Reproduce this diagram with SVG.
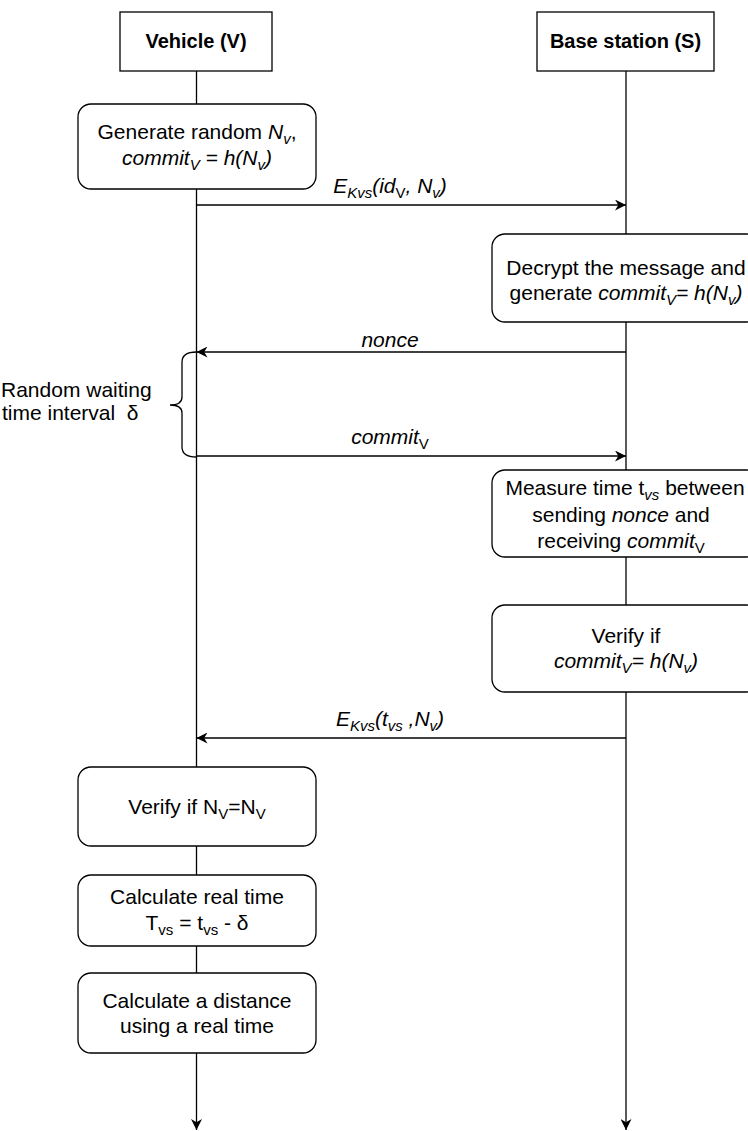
<svg xmlns="http://www.w3.org/2000/svg" width="748" height="1131" viewBox="0 0 748 1131">
<defs>
<marker id="arr" viewBox="0 0 10 10" refX="10" refY="5" markerWidth="11" markerHeight="11" markerUnits="userSpaceOnUse" orient="auto">
<path d="M0,0 L10,5 L0,10 L3,5 z" fill="#000"/>
</marker>
</defs>
<style>
.box{fill:#fff;stroke:#000;stroke-width:1.3}
.ln{fill:none;stroke:#000;stroke-width:1.3}
.t{font-family:"Liberation Sans",Arial,Helvetica,sans-serif;font-size:21px;fill:#000;text-anchor:middle}
.h{font-family:"Liberation Sans",Arial,Helvetica,sans-serif;font-size:20px;font-weight:bold;fill:#000;text-anchor:middle}
.i{font-style:italic}
.s{font-size:15px}
</style>
<g id="connectors">
<line class="ln" x1="196.5" y1="71" x2="196.5" y2="1130" marker-end="url(#arr)"/>
<line class="ln" x1="626" y1="71" x2="626" y2="1130" marker-end="url(#arr)"/>
<line class="ln" x1="196.5" y1="205" x2="626" y2="205" marker-end="url(#arr)"/>
<line class="ln" x1="626" y1="352" x2="196.5" y2="352" marker-end="url(#arr)"/>
<line class="ln" x1="196.5" y1="456" x2="626" y2="456" marker-end="url(#arr)"/>
<line class="ln" x1="626" y1="738" x2="196.5" y2="738" marker-end="url(#arr)"/>
<path class="ln" d="M196.5,352 Q182,352 182,362 L182,397 Q182,405 170,405 Q182,405 182,413 L182,447 Q182,457 196.5,457"/>
<text class="t" x="390" y="193"><tspan class="i">E</tspan><tspan class="i s" dy="5">Kvs</tspan><tspan class="i" dy="-5">(id</tspan><tspan class="s" dy="5">V</tspan><tspan class="i" dy="-5">, N</tspan><tspan class="i s" dy="5">v</tspan><tspan class="i" dy="-5">)</tspan></text>
<text class="t i" x="390" y="347">nonce</text>
<text class="t" x="390" y="444"><tspan class="i">commit</tspan><tspan class="s" dy="5">V</tspan></text>
<text class="t" x="390" y="726"><tspan class="i">E</tspan><tspan class="i s" dy="5">Kvs</tspan><tspan class="i" dy="-5">(t</tspan><tspan class="i s" dy="5">vs</tspan><tspan class="i" dy="-5"> ,N</tspan><tspan class="i s" dy="5">v</tspan><tspan class="i" dy="-5">)</tspan></text>
<text class="t" x="1" y="397" style="text-anchor:start">Random waiting</text>
<text class="t" x="2" y="420" style="text-anchor:start" xml:space="preserve">time interval  δ</text>
</g>
<g id="vehicle">
<rect class="box" x="120" y="12" width="152" height="59"/>
<text class="h" x="196" y="48">Vehicle (V)</text>
</g>
<g id="base">
<rect class="box" x="537" y="12" width="177" height="59"/>
<text class="h" x="625.5" y="48">Base station (S)</text>
</g>
<g id="generate">
<rect class="box" x="78" y="104" width="238" height="85" rx="13"/>
<text class="t" x="197" y="139">Generate random <tspan class="i">N</tspan><tspan class="i s" dy="5">v</tspan><tspan dy="-5">,</tspan></text>
<text class="t" x="197" y="165"><tspan class="i">commit</tspan><tspan class="i s" dy="5">V</tspan><tspan class="i" dy="-5"> = h(N</tspan><tspan class="i s" dy="5">v</tspan><tspan class="i" dy="-5">)</tspan></text>
</g>
<g id="decrypt">
<rect class="box" x="492" y="234" width="268" height="88" rx="13"/>
<text class="t" x="626" y="275">Decrypt the message and</text>
<text class="t" x="626" y="300">generate <tspan class="i">commit</tspan><tspan class="i s" dy="5">V</tspan><tspan class="i" dy="-5">= h(N</tspan><tspan class="i s" dy="5">v</tspan><tspan class="i" dy="-5">)</tspan></text>
</g>
<g id="measure">
<rect class="box" x="492" y="470" width="268" height="87" rx="13"/>
<text class="t" x="625" y="495">Measure time t<tspan class="i s" dy="5">vs</tspan><tspan dy="-5"> between</tspan></text>
<text class="t" x="621" y="522">sending <tspan class="i">nonce</tspan> and</text>
<text class="t" x="621" y="548">receiving <tspan class="i">commit</tspan><tspan class="s" dy="5">V</tspan></text>
</g>
<g id="verify1">
<rect class="box" x="492" y="605" width="268" height="87" rx="13"/>
<text class="t" x="626" y="643">Verify if</text>
<text class="t" x="626" y="668"><tspan class="i">commit</tspan><tspan class="i s" dy="5">V</tspan><tspan class="i" dy="-5">= h(N</tspan><tspan class="i s" dy="5">v</tspan><tspan class="i" dy="-5">)</tspan></text>
</g>
<g id="verify2">
<rect class="box" x="78" y="767" width="238" height="79" rx="13"/>
<text class="t" x="197" y="814">Verify if N<tspan class="s" dy="5">V</tspan><tspan dy="-5">=N</tspan><tspan class="s" dy="5">V</tspan></text>
</g>
<g id="realtime">
<rect class="box" x="78" y="875" width="238" height="71" rx="13"/>
<text class="t" x="197" y="904">Calculate real time</text>
<text class="t" x="197" y="930">T<tspan class="s" dy="5">vs</tspan><tspan dy="-5"> = t</tspan><tspan class="s" dy="5">vs</tspan><tspan dy="-5"> - δ</tspan></text>
</g>
<g id="distance">
<rect class="box" x="78" y="973" width="238" height="80" rx="13"/>
<text class="t" x="197" y="1008">Calculate a distance</text>
<text class="t" x="197" y="1033">using a real time</text>
</g>
</svg>
